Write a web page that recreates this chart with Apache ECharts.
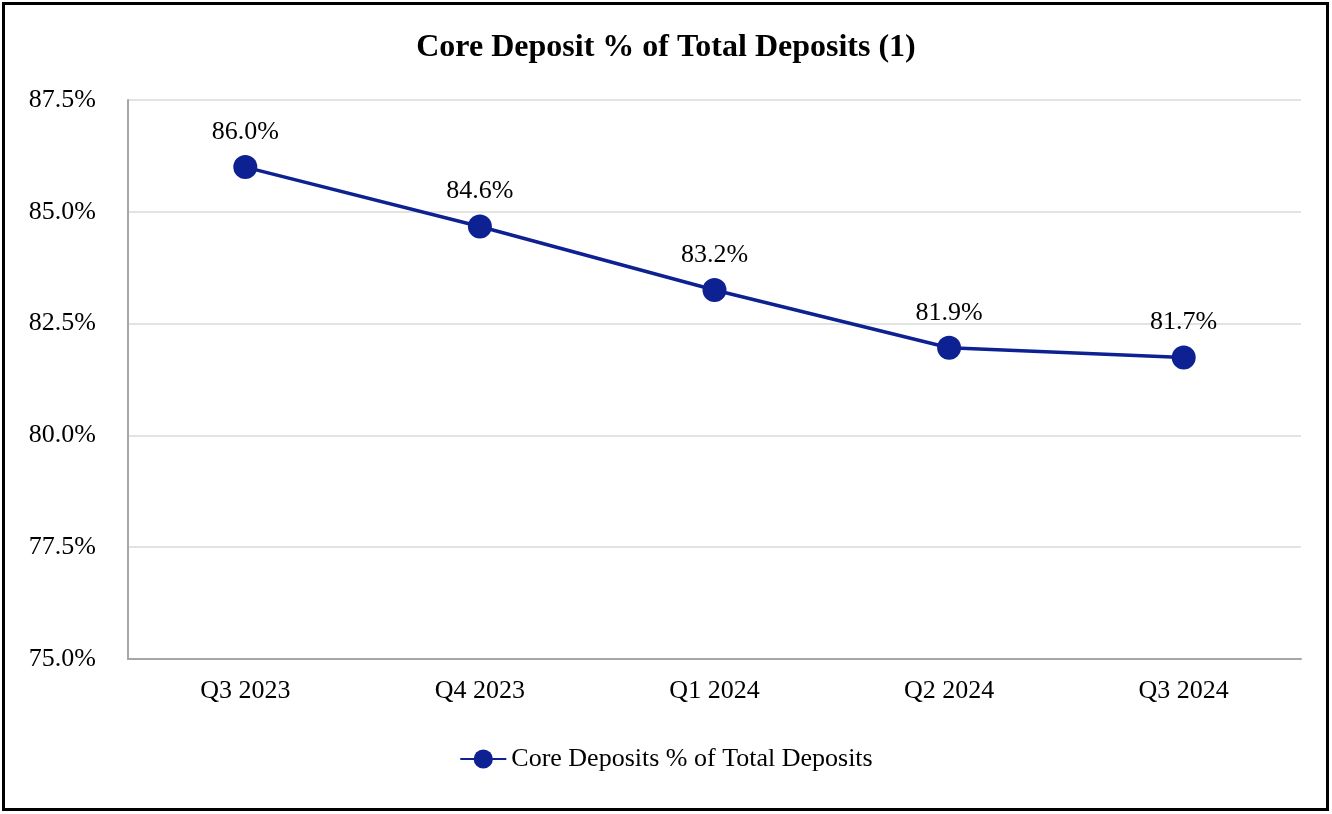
<!DOCTYPE html>
<html><head><meta charset="utf-8">
<script src="https://cdn.jsdelivr.net/npm/echarts@6/dist/echarts.min.js"></script>
<style>html,body{margin:0;padding:0;background:#fff}#c{width:1332px;height:814px}</style>
</head><body><div id="c"></div>
<script>
const categories = ["Q3 2023","Q4 2023","Q1 2024","Q2 2024","Q3 2024"];
const values = [86.0, 84.67, 83.25, 81.96, 81.74];
const valueLabels = ["86.0%","84.6%","83.2%","81.9%","81.7%"];
const seriesName = "Core Deposits % of Total Deposits";
const titleText = "Core Deposit % of Total Deposits (1)";
const font = "'Liberation Serif', 'Times New Roman', serif";
const color = "#0d2192";
const chart = echarts.init(document.getElementById('c'));
chart.setOption({
  animation: false,
  title: { text: titleText, left: 'center', top: 27, textStyle: { fontFamily: font, fontSize: 32, fontWeight: 'bold', color: '#000' } },
  graphic: [{ type: 'rect', shape: { x: 3.5, y: 3.5, width: 1324, height: 806 }, style: { fill: 'none', stroke: '#000', lineWidth: 3 } }],
  grid: { left: 128, right: 31, top: 100, bottom: 155 },
  legend: { bottom: 37, left: 'center', itemWidth: 46, itemHeight: 24, itemGap: 10,
    textStyle: { fontFamily: font, fontSize: 26, color: '#000' }, data: [seriesName] },
  xAxis: { type: 'category', data: categories, boundaryGap: true,
    axisLine: { lineStyle: { color: '#a6a6a6', width: 2 } }, axisTick: { show: false },
    axisLabel: { fontFamily: font, fontSize: 26, color: '#000', margin: 19 } },
  yAxis: { type: 'value', min: 75, max: 87.5, interval: 2.5,
    axisLine: { show: true, lineStyle: { color: '#a6a6a6', width: 2 } }, axisTick: { show: false },
    splitLine: { lineStyle: { color: '#e3e3e3', width: 2 } },
    axisLabel: { fontFamily: font, fontSize: 26, color: '#000', margin: 32, formatter: v => v.toFixed(1) + '%' } },
  series: [{ name: seriesName, type: 'line', data: values, symbol: 'circle', symbolSize: 24,
    lineStyle: { color: color, width: 3.5 }, itemStyle: { color: color },
    label: { show: true, position: 'top', distance: 10, fontFamily: font, fontSize: 26, color: '#000',
      formatter: p => valueLabels[p.dataIndex] } }]
});
</script></body></html>
